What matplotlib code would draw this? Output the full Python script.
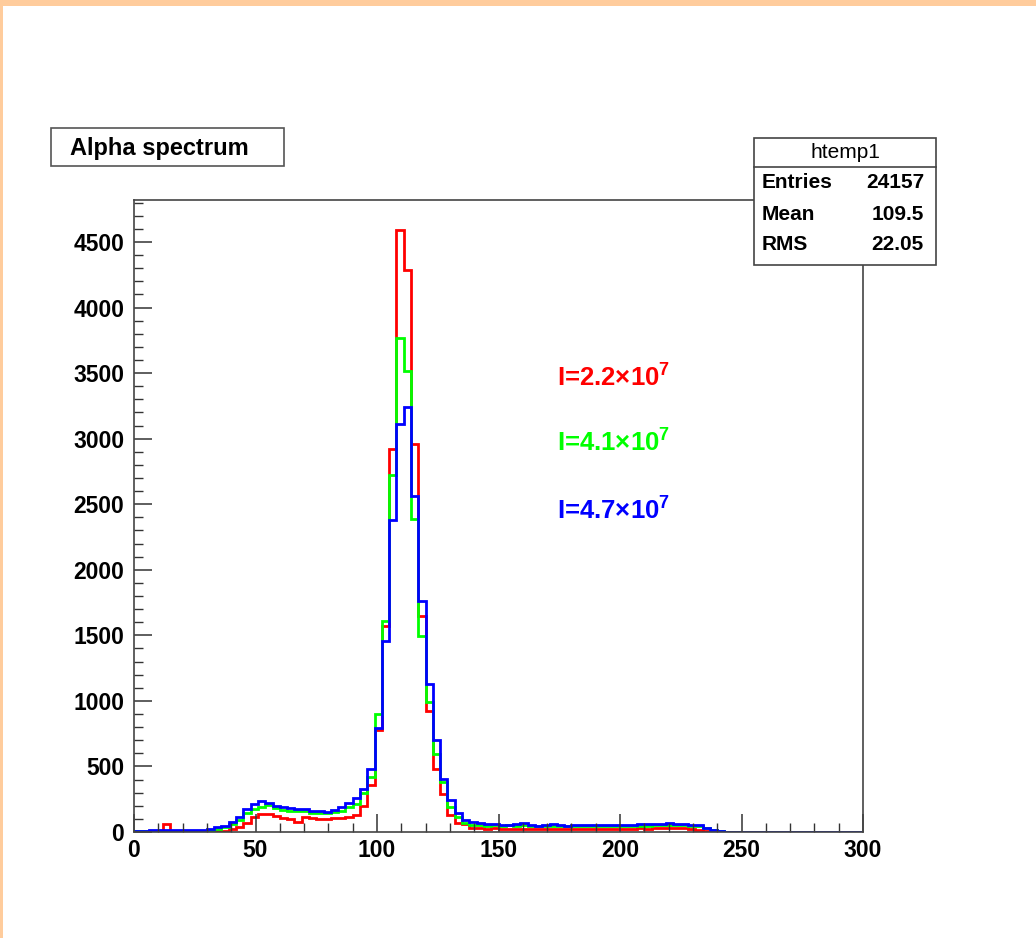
#!/usr/bin/env python3
import numpy as np
import matplotlib
matplotlib.use('Agg')
import matplotlib.pyplot as plt
from matplotlib.patches import Rectangle
from matplotlib.ticker import MultipleLocator

# 100 bins of width 3 from 0 to 300
edges = np.arange(0, 301, 3)

red_counts = [3, 3, 4, 4, 61, 5, 5, 4, 5, 5,
              3, 5, 10, 20, 41, 71, 117, 140, 140, 120,
              104, 102, 76, 112, 108, 100, 102, 106, 110, 118,
              130, 198, 358, 778, 1569, 2921, 4590, 4285, 2961, 1650,
              923, 478, 288, 130, 71, 61, 28, 28, 25, 28,
              25, 22, 26, 24, 20, 22, 25, 20, 22, 24,
              21, 23, 25, 22, 20, 24, 26, 22, 25, 28,
              26, 30, 32, 34, 32, 28, 24, 18, 10, 4,
              1, 0, 0, 0, 0, 0, 0, 0, 0, 0,
              0, 0, 0, 0, 0, 0, 0, 0, 0, 0]

green_counts = [5, 6, 6, 7, 7, 8, 8, 8, 9, 10,
                15, 25, 41, 61, 92, 142, 173, 188, 206, 186,
                168, 163, 158, 158, 142, 142, 147, 153, 163, 188,
                211, 300, 420, 900, 1612, 2725, 3771, 3519, 2385, 1497,
                992, 593, 384, 193, 117, 71, 53, 53, 48, 51,
                48, 50, 46, 52, 44, 42, 46, 48, 42, 44,
                45, 46, 43, 44, 42, 44, 44, 46, 45, 47,
                48, 50, 52, 54, 55, 52, 48, 44, 30, 14,
                6, 2, 0, 0, 0, 0, 0, 0, 0, 0,
                0, 0, 0, 0, 0, 0, 0, 0, 0, 0]

blue_counts = [8, 10, 12, 13, 13, 14, 14, 14, 15, 15,
               20, 36, 48, 74, 117, 173, 211, 237, 224, 201,
               193, 183, 175, 175, 163, 158, 153, 170, 188, 220,
               260, 330, 478, 796, 1457, 2380, 3112, 3244, 2559, 1760,
               1129, 702, 402, 244, 142, 92, 79, 66, 58, 61,
               55, 57, 60, 66, 50, 48, 52, 60, 50, 48,
               52, 54, 50, 52, 52, 50, 52, 52, 55, 58,
               60, 62, 64, 66, 64, 60, 56, 50, 30, 15,
               8, 3, 1, 0, 0, 0, 0, 0, 0, 0,
               0, 0, 0, 0, 0, 0, 0, 0, 0, 0]

labels = ['I=2.2$\\times$10$^{7}$', 'I=4.1$\\times$10$^{7}$', 'I=4.7$\\times$10$^{7}$']
label_y = [3394, 2900, 2380]
colors = ['#ff0000', '#00ff00', '#0000ff']

stats_names = ['Entries', 'Mean', 'RMS']
stats_values = ['24157', '109.5', '22.05']

plt.rcParams['font.family'] = ['Liberation Sans', 'DejaVu Sans']
plt.rcParams['mathtext.fontset'] = 'custom'
plt.rcParams['mathtext.rm'] = 'Liberation Sans:bold'
plt.rcParams['mathtext.default'] = 'rm'

W, H = 1036, 938
fig = plt.figure(figsize=(W / 100, H / 100), dpi=100)
fig.patch.set_facecolor('white')


def fx(px):
	return px / W


def fy(py):
	return 1 - py / H


# orange border of the screenshot
fig.patches.append(Rectangle((0, fy(6)), 1, 6 / H, transform=fig.transFigure,
                             facecolor='#ffcc9c', edgecolor='none', zorder=0))
fig.patches.append(Rectangle((0, 0), 3 / W, 1, transform=fig.transFigure,
                             facecolor='#ffcc9c', edgecolor='none', zorder=0))

ax = fig.add_axes([fx(134), fy(832), (863 - 134) / W, (832 - 200) / H])

for counts, c in zip([red_counts, green_counts, blue_counts], colors):
	ax.stairs(counts, edges, color=c, lw=2.0)

ax.set_xlim(0, 300)
ax.set_ylim(0, 4820)
ax.xaxis.set_major_locator(MultipleLocator(50))
ax.xaxis.set_minor_locator(MultipleLocator(10))
ax.yaxis.set_major_locator(MultipleLocator(500))
ax.yaxis.set_minor_locator(MultipleLocator(100))
ax.tick_params(which='both', direction='in', colors='#333333')
ax.tick_params(which='major', length=13, width=1.1, labelsize=16.5, labelcolor='black')
ax.tick_params(which='minor', length=6.5, width=1.0)
ax.tick_params(axis='x', pad=5)
ax.tick_params(axis='y', pad=7)
for lab in ax.get_xticklabels() + ax.get_yticklabels():
	lab.set_fontweight('bold')
for sp in ax.spines.values():
	sp.set_color('#444444')
	sp.set_linewidth(1.2)

for txt, yy, c in zip(labels, label_y, colors):
	ax.text(174, yy, txt, color=c, fontsize=18.5, fontweight='bold', va='baseline', ha='left')

# title pave
fig.patches.append(Rectangle((fx(51), fy(166)), (284 - 51) / W, (166 - 128) / H,
                             transform=fig.transFigure, facecolor='white',
                             edgecolor='#555555', lw=1.2, zorder=3))
fig.text(fx(70), fy(148), 'Alpha spectrum', fontsize=17, fontweight='bold',
         va='center', ha='left', zorder=4)

# stats box
fig.patches.append(Rectangle((fx(754), fy(265)), (936 - 754) / W, (265 - 138) / H,
                             transform=fig.transFigure, facecolor='white',
                             edgecolor='#444444', lw=1.2, zorder=5))
fig.lines.append(plt.Line2D([fx(754), fx(936)], [fy(167), fy(167)],
                            transform=fig.transFigure, color='#444444', lw=1.2, zorder=6))
fig.text(fx(845), fy(153), 'htemp1', fontsize=15, ha='center', va='center', zorder=7)
for k, (nm, val) in enumerate(zip(stats_names, stats_values)):
	yy = fy(183 + 31 * k)
	fig.text(fx(762), yy, nm, fontsize=15, fontweight='bold', ha='left', va='center', zorder=7)
	fig.text(fx(924), yy, val, fontsize=15, fontweight='bold', ha='right', va='center', zorder=7)

plt.savefig('out.png', dpi=100)
plt.close(fig)
